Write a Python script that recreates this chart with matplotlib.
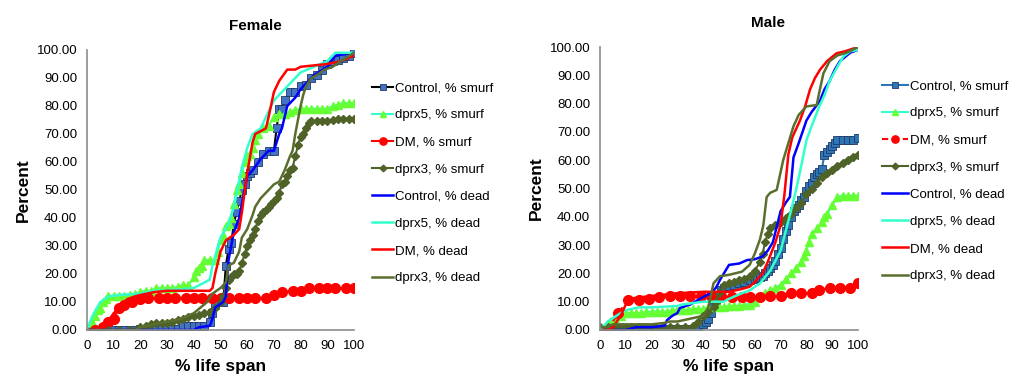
import matplotlib
matplotlib.use("Agg")
from matplotlib import pyplot as plt

plt.rcParams['font.family'] = ['Liberation Sans', 'DejaVu Sans']

# ---- Female ----
f_ctrl_smurf_x = [0,2,4,6,8,10,12,14,16,18,20,22,24,26,28,30,32,34,36,38,40,42,44,46,47,48,50,51,52,53,54,55,56,57,58,59,60,61,62,64,66,68,70,71,72,73,74,76,78,80,82,84,86,88,90,92,94,96,98,100]
f_ctrl_smurf_y = [0,0,0,0,0,0,0,0,0,0,0.5,0.5,0.5,0.5,0.5,0.5,0.5,0.5,1.5,1.5,1.5,1.5,1.5,3,6,9,10,10,23,29,31,38,42,46,50,52,55,56,57,60,63,64,64,72,79,79,82,85,85,87,87.5,90,91,93,95,96,96.5,97,98,99]
f_dprx5_smurf_x = [0,1,2,3,4,5,6,7,8,10,12,14,16,18,20,22,24,26,28,30,32,34,36,38,40,41,42,43,44,46,48,49,50,51,52,53,54,55,56,57,58,59,60,61,62,63,64,66,68,70,72,74,76,78,80,82,84,86,88,90,92,94,96,98,100]
f_dprx5_smurf_y = [0,2,3,5,7,8,10,11,12,12,12,12,12.5,13,13.5,14,14,15,15,15,15,15.5,16,16,19,21,22,23,25,25,25,28,32,34,37,38,40,45,50,52,56,60,62,63,65,68,70,72,73,76,77,77,78,78.5,79,79,79,79,79,79,80,80.5,81,81,81]
f_dm_smurf_x = [3,6,8,10,12,14,17,20,23,27,30,33,37,40,43,47,50,53,57,60,63,67,70,73,77,80,83,87,90,93,97,100]
f_dm_smurf_y = [0,1,3,4,8,9,10,11,11.5,11.5,11.5,11.5,11.5,11.5,11.5,11.5,11.5,11.5,11.5,11.5,11.5,11.5,12.5,13.5,14,14,15,15,15,15,15,15]
f_dprx3_smurf_x = [0,4,8,12,16,20,22,24,26,28,30,32,34,36,38,40,42,44,46,48,50,51,52,53,54,55,56,57,58,59,60,61,62,63,64,65,66,67,68,69,70,71,72,73,74,75,76,77,78,79,80,81,82,83,84,86,88,90,92,94,96,98,100]
f_dprx3_smurf_y = [0,0,0,0,0,1,1.5,2,2.5,2.5,2.5,3,3.5,4,4.5,5,5.5,6,6.5,8,10,12,15,18,19,20,20,21,24,27,30,32,34,36,39,41,42,43,44,45,46,47,49,52,53,55,57,58,62,66,69,70,72,74,74.5,74.5,74.5,74.5,75,75.5,75.5,75.5,75.5]
f_ctrl_dead_x = [0,10,20,30,40,42,46,47,48,51,52,53,54,55,57,59,60,62,65,68,70,72,73,75,78,80,85,90,93,100]
f_ctrl_dead_y = [0,0,0,0,0,1,1.5,4,8,10,12,25,30,35,40,50,55,57,61,64,64,70,72,80,83,86,91,94,98,99]
f_dprx5_dead_x = [0,2,5,8,12,20,25,35,40,44,46,47,50,53,55,58,60,62,65,67,70,75,80,85,90,93,100]
f_dprx5_dead_y = [0,5,10,12,12.5,13,14,14.5,15,17,18,23,33,38,44,58,65,70,72,76,82,87,92,94,96,99,99]
f_dm_dead_x = [0,3,5,8,10,13,15,18,20,25,30,40,46,47,48,50,52,55,57,58,60,62,63,65,67,68,70,72,75,78,80,85,90,95,100]
f_dm_dead_y = [0,0,1,3,6,9,11,12,12.5,13.5,14,14,14,15,20,28,32,34,36,42,56,67,70,71,72,76,85,89,93,93,94,94.5,95,96,98]
f_dprx3_dead_x = [0,18,20,25,30,35,40,45,47,50,52,53,55,57,58,60,62,63,65,68,70,72,74,76,77,78,80,81,82,84,86,89,92,95,100]
f_dprx3_dead_y = [0,0,1,2,3,4,6,10,13,15,17,23,24,28,33,36,41,44,47,50,52,53,57,62,64,70,80,84,87,90,91,93,94,96,99]

# ---- Male ----
m_ctrl_smurf_x = [0,2,4,6,8,10,12,15,18,21,24,27,30,33,36,38,40,41,42,43,44,45,46,47,48,50,52,54,56,58,60,61,62,63,64,65,66,67,68,69,70,71,72,73,74,75,76,77,78,79,80,81,82,83,84,85,86,87,88,89,90,91,92,94,96,98,100]
m_ctrl_smurf_y = [0.5,0.5,0.5,0.5,0.5,0.5,0.3,0.3,0.3,0.3,0.3,0.3,0.3,0.3,0.5,1,2,3,4,6,8,10,12,14,15,15.5,16,16.5,17,17.5,18,18.5,18.8,19,20,21,22,23,24.5,27,29,32,35,37,40,42,43,44,46,47,49,51,52,54,55,56,57,62,63,64,65,66,67,67,67,67,68]
m_dprx5_smurf_x = [0,2,4,6,8,10,12,14,16,18,20,22,24,26,28,30,32,34,36,38,40,42,44,46,48,50,52,54,56,58,60,62,64,66,68,70,72,74,76,78,79,80,81,82,84,86,87,88,90,92,94,96,98,100]
m_dprx5_smurf_y = [0,1,3,4,5,6,6,6,6,6.5,6.5,6.5,6.5,6.5,7,7,7,7,7.5,7.5,7.5,8,8,8,8,8.5,8.5,8.5,9,9,10,12,13,14,15,16,18,20,22,24,26,28,31,34,36,38,40,41,44,47,47.5,47.5,47.5,47.5]
m_dm_smurf_x = [3,7,11,15,19,23,27,31,35,39,43,47,51,55,58,62,66,70,74,78,82,85,89,93,97,100]
m_dm_smurf_y = [0,6,10.5,10.5,11,11.5,12,12,12,12,12,12,11.5,11.5,11.5,11.5,12,12,13,13,13,14,15,15,15,16.5]
m_dprx3_smurf_x = [0,3,6,9,12,15,18,21,24,27,30,33,36,38,40,42,44,45,46,48,50,52,54,56,58,60,62,63,64,65,66,68,70,72,74,76,78,80,82,84,86,88,90,92,94,96,98,100]
m_dprx3_smurf_y = [1,1,1,1,1,1,1,1,1,1,1,1,1.5,3,5,6.5,8,10,13,16,16.5,17,17.5,18,19,21,24,27,31,34,36,37,38,39.5,41,43,45,48,50,52,54,55.5,56.5,58,59,60,61,62]
m_ctrl_dead_x = [0,10,14,20,25,26,28,30,31,35,40,43,45,46.5,50,54,57,60,63,65,67,68.5,70,72,73.6,75,77,80,82,85.3,87,89,91,93,97,100]
m_ctrl_dead_y = [0,0,1,1,1.5,3.5,5,6,7.8,9,11.7,13,15,17.7,23,23.5,24.7,25,26,28,31,36.5,42,45,47,61,66,74,77,81,85,88,92,95,98,99]
m_dprx5_dead_x = [0,3,8,10,15,20,30,32,40,45,48,50,55,58,62,66,70,72,74,76,78,80,82,85,87,89,92,94.3,97,100]
m_dprx5_dead_y = [0,3,6,7,8,8,8.5,9,10,10,10,11,13,14,16.5,21,28,35,42,49.5,58,67,72,79,83,88,93,96.6,98.5,99]
m_dm_dead_x = [0,3,5,8,10,11,15,20,25,30,40,45,50,55,58,60,63,65,68,70,71.5,73,74.5,77.5,79.5,81.4,83.3,85.3,88,91.7,95,100]
m_dm_dead_y = [0,0,1,5,9,11,11.5,12,12.5,13,13.5,13.5,13.5,14.5,15.3,17,20,24,31,37,48,62,68,74,79,85,89,92,95,97.8,98.5,100]
m_dprx3_dead_x = [0,3,5,10,20,25,27,30,35,40,42,44,46.5,50,55,58,60,62,63.3,64.6,66,68.5,71,73,75,77,80,84,85,86.6,89,92,95.6,100]
m_dprx3_dead_y = [1,1,2,2,2,2.5,3,3,4,5,8,16.5,19,19.5,20.6,23,27,32,37,47,48.5,49.5,60,66,72,76,79,79.5,84,90.7,95,97,98,100]

labels = ['Control, % smurf', 'dprx5, % smurf', 'DM, % smurf', 'dprx3, % smurf',
          'Control, % dead', 'dprx5, % dead', 'DM, % dead', 'dprx3, % dead']

olive = '#4f6228'
lime = '#66ff33'
aqua = '#33ffcc'

fig = plt.figure(figsize=(10.11, 3.74), dpi=100)
ax1 = fig.add_axes([87/1011, 44/374, 267/1011, 280/374])
ax2 = fig.add_axes([600/1011, 44/374, 258/1011, 283/374])


def draw(ax, smurf, dead, ctrl_line, ctrl_face, dm_ls):
    (cx, cy), (px, py), (dx, dy), (tx, ty) = smurf
    ax.plot(cx, cy, color=ctrl_line, lw=1.5, marker='s', ms=5.5,
            mfc=ctrl_face, mec='#1f3864', mew=0.6)
    ax.plot(px, py, color=aqua, lw=1.5, marker='^', ms=6,
            mfc=lime, mec=lime)
    ax.plot(dx, dy, color='red', lw=1.5, ls=dm_ls, marker='o', ms=7,
            mfc='red', mec='red')
    ax.plot(tx, ty, color=olive, lw=1.5, marker='D', ms=4.5,
            mfc=olive, mec=olive)
    (cx, cy), (px, py), (dx, dy), (tx, ty) = dead
    ax.plot(cx, cy, color='#0000ff', lw=1.8)
    ax.plot(px, py, color=aqua, lw=1.8)
    ax.plot(dx, dy, color='red', lw=1.8)
    ax.plot(tx, ty, color='#5a6e2e', lw=1.8)

    ax.set_xlim(0, 100)
    ax.set_ylim(0, 100)
    ax.set_xticks(range(0, 101, 10))
    ax.set_yticks(range(0, 101, 10))
    ax.set_yticklabels(['%.2f' % v for v in range(0, 101, 10)])
    ax.tick_params(length=0, labelsize=9.5, pad=7)
    for s in ['top', 'right']:
        ax.spines[s].set_visible(False)
    for s in ['left', 'bottom']:
        ax.spines[s].set_color('#8c8c8c')
        ax.spines[s].set_linewidth(1.2)
    ax.set_ylabel('Percent', fontsize=12.5, fontweight='bold', labelpad=4)
    ax.set_xlabel('% life span', fontsize=12.5, fontweight='bold', labelpad=5)


draw(ax1,
     [(f_ctrl_smurf_x, f_ctrl_smurf_y), (f_dprx5_smurf_x, f_dprx5_smurf_y),
      (f_dm_smurf_x, f_dm_smurf_y), (f_dprx3_smurf_x, f_dprx3_smurf_y)],
     [(f_ctrl_dead_x, f_ctrl_dead_y), (f_dprx5_dead_x, f_dprx5_dead_y),
      (f_dm_dead_x, f_dm_dead_y), (f_dprx3_dead_x, f_dprx3_dead_y)],
     'black', '#4472c4', '-')
draw(ax2,
     [(m_ctrl_smurf_x, m_ctrl_smurf_y), (m_dprx5_smurf_x, m_dprx5_smurf_y),
      (m_dm_smurf_x, m_dm_smurf_y), (m_dprx3_smurf_x, m_dprx3_smurf_y)],
     [(m_ctrl_dead_x, m_ctrl_dead_y), (m_dprx5_dead_x, m_dprx5_dead_y),
      (m_dm_dead_x, m_dm_dead_y), (m_dprx3_dead_x, m_dprx3_dead_y)],
     '#2e75b6', '#2e75b6', (0, (3, 2)))

fig.text(255/1011, 1 - 26/374, 'Female', ha='center', va='center',
         fontsize=11, fontweight='bold')
fig.text(768/1011, 1 - 23/374, 'Male', ha='center', va='center',
         fontsize=11, fontweight='bold')

ax1.legend(ax1.get_lines(), labels, loc='upper left',
           bbox_to_anchor=(372/1011, 1 - 82/374), bbox_transform=fig.transFigure,
           frameon=False, fontsize=9.5, handlelength=1.6, handletextpad=0.15,
           labelspacing=1.13, borderpad=0, borderaxespad=0, markerscale=0.75)
ax2.legend(ax2.get_lines(), labels, loc='upper left',
           bbox_to_anchor=(882/1011, 1 - 80/374), bbox_transform=fig.transFigure,
           frameon=False, fontsize=9.5, handlelength=2.0, handletextpad=0.15,
           labelspacing=1.13, borderpad=0, borderaxespad=0, markerscale=0.75)

fig.savefig('out.png', dpi=100)
